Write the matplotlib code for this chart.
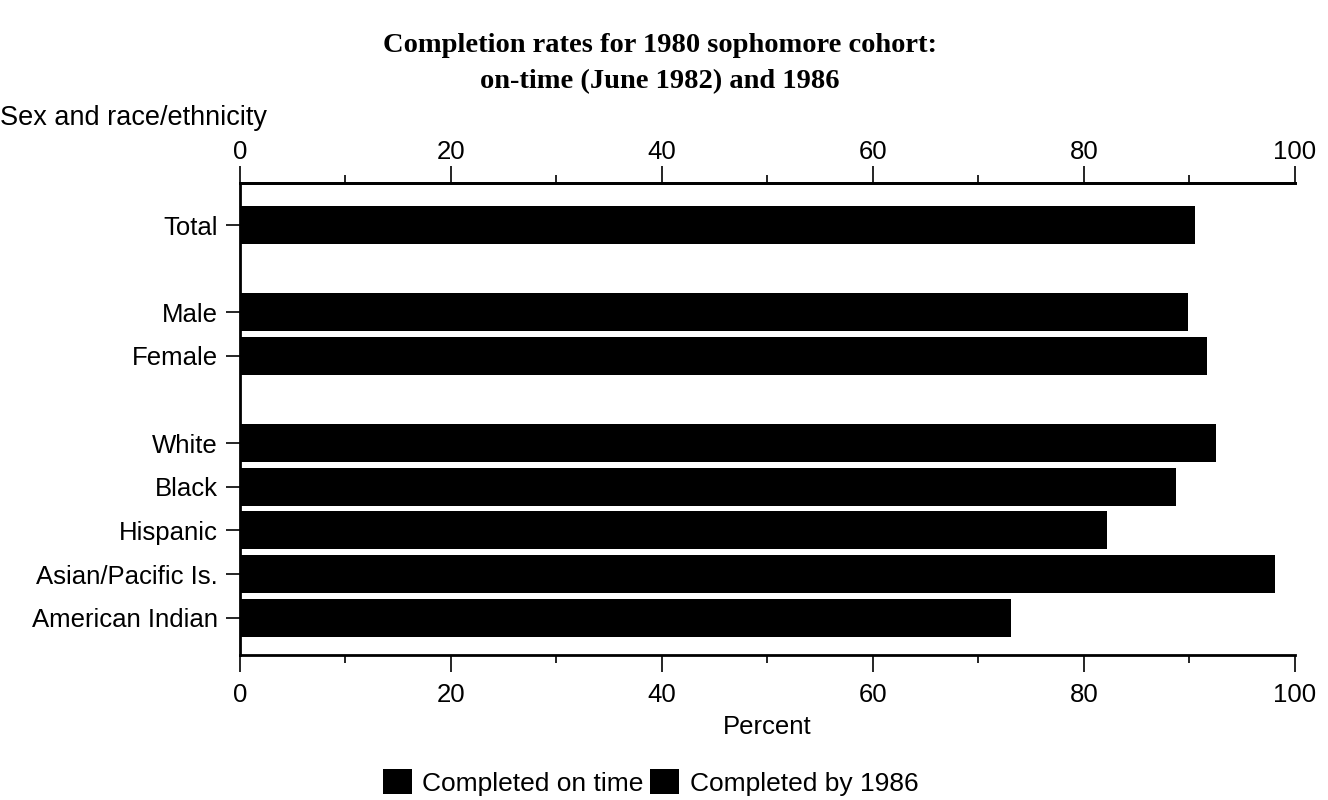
import numpy as np
import matplotlib
matplotlib.use("Agg")
import matplotlib.pyplot as plt
from matplotlib.patches import Patch

plt.rcParams['font.family'] = ['Liberation Sans', 'DejaVu Sans']

GROUPS = ['Total', 'Male', 'Female', 'White', 'Black', 'Hispanic',
          'Asian/Pacific Is.', 'American Indian']
POSITIONS = [0, 2, 3, 5, 6, 7, 8, 9]
# on-time bars are hidden under the 1986 bars (both drawn black) - estimates
ON_TIME = [84.0, 82.5, 85.5, 86.0, 76.0, 72.0, 91.5, 65.0]
BY_1986 = [90.5, 89.9, 91.7, 92.5, 88.7, 82.2, 98.1, 73.1]
XTICKS = [0, 20, 40, 60, 80, 100]

FS = 18.5

fig = plt.figure(figsize=(13.28, 8), dpi=100)
ax = fig.add_axes([0.1807, 0.181, 0.975 - 0.1807, 0.771 - 0.181])

ax.barh(POSITIONS, BY_1986, height=0.87, color='black', left=0)
ax.barh(POSITIONS, ON_TIME, height=0.87, color='black', left=0)

ax.set_xlim(0, 100)
ax.set_ylim(9.86, -0.96)
ax.set_yticks(POSITIONS)
ax.set_yticklabels(GROUPS, fontsize=FS)
ax.set_xticks(XTICKS)
ax.set_xticks(range(10, 100, 20), minor=True)
ax.tick_params(axis='x', which='both', labelsize=FS, direction='out', width=1.2)
ax.tick_params(axis='x', which='major', length=12, pad=8)
ax.tick_params(axis='x', which='minor', length=6)
ax.tick_params(axis='y', length=10, width=1.2, pad=6)
ax.spines['right'].set_visible(False)
for s in ['left', 'bottom', 'top']:
    ax.spines[s].set_linewidth(2)

top = ax.secondary_xaxis('top')
top.set_xticks(XTICKS)
top.set_xticks(range(10, 100, 20), minor=True)
top.tick_params(axis='x', which='both', labelsize=FS, direction='out', width=1.2)
top.tick_params(axis='x', which='major', length=12, pad=2)
top.tick_params(axis='x', which='minor', length=6)
top.spines['top'].set_linewidth(2)

ax.set_xlabel('Percent', fontsize=FS, labelpad=6)

fig.text(0.497, 0.959, 'Completion rates for 1980 sophomore cohort:\non-time (June 1982) and 1986',
         ha='center', va='top', fontsize=20.5, fontweight='bold',
         family=['Liberation Serif', 'DejaVu Serif'], linespacing=1.6)
fig.text(0.0, 0.852, 'Sex and race/ethnicity', ha='left', va='center', fontsize=19.5)

handles = [Patch(facecolor='black', label='Completed on time'),
           Patch(facecolor='black', label='Completed by 1986')]
fig.legend(handles=handles, loc='center', bbox_to_anchor=(0.49, 0.022), ncol=2,
           frameon=False, fontsize=19, handlelength=1.1, handleheight=1.1,
           handletextpad=0.4, columnspacing=0.25)

fig.savefig('out.png', dpi=100)
